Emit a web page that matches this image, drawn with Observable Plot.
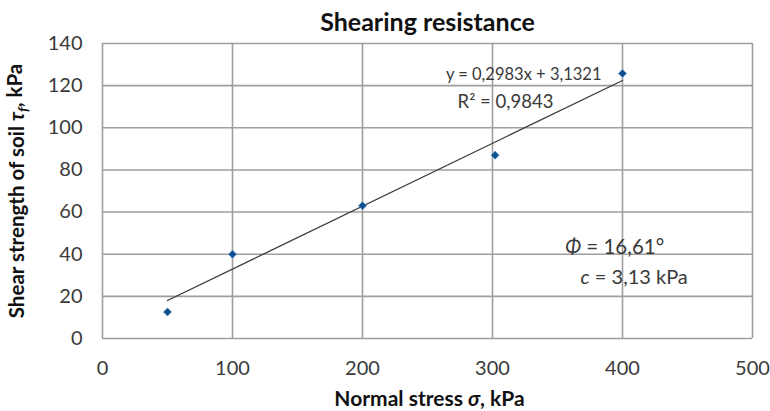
<!DOCTYPE html>
<html>
<head>
<meta charset="utf-8">
<script src="https://cdn.jsdelivr.net/npm/d3@7"></script>
<script src="https://cdn.jsdelivr.net/npm/@observablehq/plot@0.6"></script>
<style>
  html, body { margin: 0; padding: 0; background: #fff; }
  #chart { width: 770px; height: 411px; }
</style>
</head>
<body>
<div id="chart"></div>
<script>
// ---- data ----
const normalStress = [50, 100, 200, 302, 400];
const shearStrength = [12.6, 40, 63, 87, 125.8];
const xTicks = [0, 100, 200, 300, 400, 500];
const yTicks = [0, 20, 40, 60, 80, 100, 120, 140];
const trendSlope = [0.2983];
const trendIntercept = [3.1321];
const trendRange = [50, 400];
const titleText = ["Shearing resistance"];
const xLabelText = ["Normal stress σ, kPa"];
const yLabelText = ["Shear strength of soil τf, kPa"];
const equationText = ["y = 0,2983x + 3,1321"];
const r2Text = ["R² = 0,9843"];
const phiText = ["Φ = 16,61°"];
const cohesionText = ["c = 3,13 kPa"];

const points = normalStress.map((x, i) => ({x, y: shearStrength[i]}));
const trend = trendRange.map(x => ({x, y: trendSlope[0] * x + trendIntercept[0]}));

const font = "Lato, 'Noto Sans', sans-serif";
const textColor = "#3a3a3a";
const gridColor = "#9e9e9e";

const chart = Plot.plot({
  width: 770,
  height: 411,
  marginLeft: 102,
  marginRight: 18,
  marginTop: 43,
  marginBottom: 73,
  style: {fontFamily: font, fontSize: "20px", color: textColor, background: "#fff"},
  x: {domain: [0, 500], ticks: xTicks, tickSize: 0, tickPadding: 22, label: null},
  y: {domain: [0, 140], ticks: yTicks, tickSize: 0, tickPadding: 20, label: null},
  marks: [
    Plot.gridX(xTicks, {stroke: gridColor, strokeOpacity: 1, strokeWidth: 1.6}),
    Plot.gridY(yTicks, {stroke: gridColor, strokeOpacity: 1, strokeWidth: 1.6}),
    Plot.axisX({ticks: xTicks, tickSize: 0, tickPadding: 22, fill: textColor, fontSize: 20, label: null}),
    Plot.axisY({ticks: yTicks, tickSize: 0, tickPadding: 20, fill: textColor, fontSize: 20, label: null}),
    Plot.line(trend, {x: "x", y: "y", stroke: "#3a3a3a", strokeWidth: 1.3}),
    Plot.dot(points, {x: "x", y: "y", symbol: "diamond2", r: 3.6, fill: "#0d4f8c", stroke: "#4a8ccc", strokeWidth: 0.8}),
    Plot.text(equationText, {x: 324, y: 125, text: d => d, fontSize: 16.5, fill: textColor}),
    Plot.text(r2Text, {x: 310, y: 112, text: d => d, fontSize: 18.5, fill: textColor}),
    Plot.text(phiText, {x: 394, y: 43.3, text: d => d, fontSize: 20.5, fill: textColor}),
    Plot.text(cohesionText, {x: 409, y: 29.1, text: d => d, fontSize: 20, fill: textColor}),
    Plot.text(titleText, {frameAnchor: "top", dy: -30, text: d => d, fontSize: 25, fontWeight: "bold", fill: "#111"}),
    Plot.text(xLabelText, {frameAnchor: "bottom", dy: 67, dx: 2, text: d => d, fontSize: 21, fontWeight: "bold", fill: "#111"}),
    Plot.text(yLabelText, {frameAnchor: "left", dx: -85, rotate: -90, textAnchor: "middle", text: d => d, fontSize: 20.5, fontWeight: "bold", fill: "#111"})
  ]
});
document.getElementById("chart").appendChild(chart);

// rich text (italic symbols, subscript) for some labels
function rich(full, parts) {
  d3.select(chart).selectAll("text").filter(function() { return this.textContent === full; }).each(function() {
    const t = d3.select(this);
    t.text(null);
    parts.forEach(p => {
      const s = t.append("tspan").text(p.t);
      if (p.i) s.attr("font-style", "italic");
      if (p.dy) s.attr("dy", p.dy);
      if (p.fs) s.attr("font-size", p.fs);
    });
  });
}
rich(yLabelText[0], [
  {t: "Shear strength of soil "}, {t: "τ", i: true},
  {t: "f", i: true, dy: "0.3em", fs: "14px"}, {t: ", kPa", dy: "-0.3em"}
]);
rich(xLabelText[0], [{t: "Normal stress "}, {t: "σ", i: true}, {t: ", kPa"}]);
rich(phiText[0], [{t: "Φ", i: true}, {t: " = 16,61°"}]);
rich(cohesionText[0], [{t: "c", i: true}, {t: " = 3,13 kPa"}]);
</script>
</body>
</html>
